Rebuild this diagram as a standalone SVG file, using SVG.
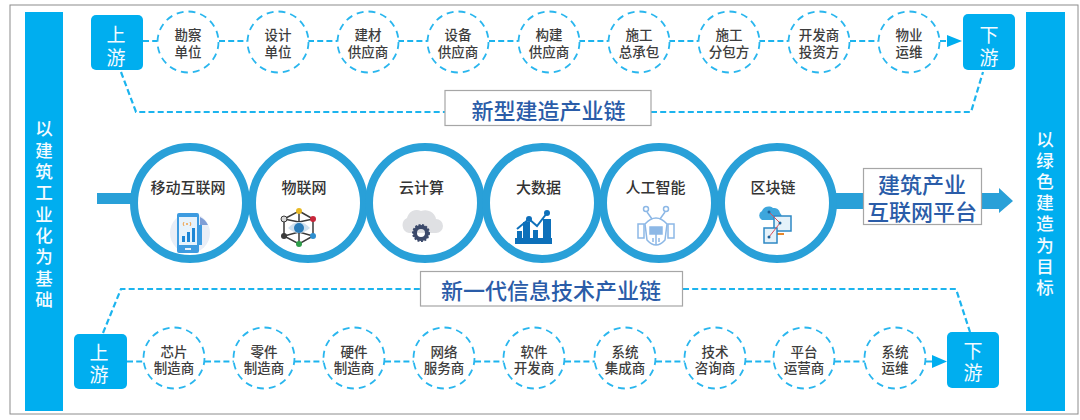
<svg xmlns="http://www.w3.org/2000/svg" width="1080" height="420" viewBox="0 0 1080 420">
<style>
text{font-family:"Noto Sans CJK SC","Noto Sans",sans-serif;text-anchor:middle;dominant-baseline:central}
.bar{fill:#00aeef}
.bt{fill:#f4fbff;font-size:17.500px;font-weight:500}
.ud{fill:#00aeef}
.udt{fill:#f4fbff;font-size:19px}
.c{fill:#fff;stroke:#29b6ee;stroke-width:1.8;stroke-dasharray:7 5}
.ct{fill:#3d3d3d;font-size:13.5px;font-weight:500}
.dash{fill:none;stroke:#1cb4ee;stroke-width:2.2;stroke-dasharray:6 3.2}
.ring{fill:#fff;stroke:#29a0d8;stroke-width:8}
.rt{fill:#333;font-size:15px;font-weight:500}
.box{fill:#fff;stroke:#a6a6a6;stroke-width:1.2}
.bx{fill:#2a5ca8;font-size:22px;font-weight:500}
</style>
<defs>
<filter id="soft" x="-10%" y="-10%" width="120%" height="120%"><feGaussianBlur stdDeviation="0.45"/></filter>
</defs>
<rect x="10" y="5" width="1068" height="409" fill="#fff" stroke="#8c8c8c" stroke-width="1"/>

<g id="connectors">
<path class="dash" d="M143 41H157M219 41H247M308 41H337M398 41H428M489 41H518M579 41H608M669 41H698M759 41H788M850 41H878M940 41H948"/>
<polygon points="947,35 962,41 947,47" fill="#00aeef"/>
<path class="dash" d="M121 72L136 112H445M651 112H971L983 72"/>
<path class="dash" d="M127 361.500H144M205 361.500H234M295 361.500H324M385 361.500H414M475 361.500H504M565 361.500H595M656 361.500H685M746 361.500H774M835 361.500H865M926 361.500H933"/>
<polygon points="932,355 947,361.500 932,368" fill="#00aeef"/>
<path class="dash" d="M103 333L121 289H421M683 289H956L970 332"/>
<rect x="97" y="193" width="40" height="11" fill="#29a0d8"/>
<polygon points="830,193 999,193 999,188 1013,201 999,213 999,209 830,209" fill="#29a0d8"/>
</g>

<g id="left-bar"><rect class="bar" x="25" y="12" width="38" height="399"/>
<text class="bt"><tspan x="44" y="127">以</tspan><tspan x="44" y="149">建</tspan><tspan x="44" y="170">筑</tspan><tspan x="44" y="191">工</tspan><tspan x="44" y="213">业</tspan><tspan x="44" y="234">化</tspan><tspan x="44" y="255">为</tspan><tspan x="44" y="277">基</tspan><tspan x="44" y="298">础</tspan></text></g>
<g id="right-bar"><rect class="bar" x="1026" y="12" width="39" height="399"/>
<text class="bt"><tspan x="1045" y="138">以</tspan><tspan x="1045" y="159">绿</tspan><tspan x="1045" y="180">色</tspan><tspan x="1045" y="201">建</tspan><tspan x="1045" y="222">造</tspan><tspan x="1045" y="244">为</tspan><tspan x="1045" y="265">目</tspan><tspan x="1045" y="286">标</tspan></text></g>

<g id="top-up"><rect class="ud" x="91" y="15" width="52" height="55" rx="5"/><text class="udt"><tspan x="116" y="33">上</tspan><tspan x="116" y="56">游</tspan></text></g>
<g id="top-t1"><circle class="c" cx="188" cy="42" r="30.500"/><text class="ct"><tspan x="188" y="34">勘察</tspan><tspan x="188" y="51">单位</tspan></text></g>
<g id="top-t2"><circle class="c" cx="278" cy="42" r="30.500"/><text class="ct"><tspan x="278" y="34">设计</tspan><tspan x="278" y="51">单位</tspan></text></g>
<g id="top-t3"><circle class="c" cx="368" cy="42" r="30.500"/><text class="ct"><tspan x="368" y="34">建材</tspan><tspan x="368" y="51">供应商</tspan></text></g>
<g id="top-t4"><circle class="c" cx="458" cy="42" r="30.500"/><text class="ct"><tspan x="458" y="34">设备</tspan><tspan x="458" y="51">供应商</tspan></text></g>
<g id="top-t5"><circle class="c" cx="549" cy="42" r="30.500"/><text class="ct"><tspan x="549" y="34">构建</tspan><tspan x="549" y="51">供应商</tspan></text></g>
<g id="top-t6"><circle class="c" cx="639" cy="42" r="30.500"/><text class="ct"><tspan x="639" y="34">施工</tspan><tspan x="639" y="51">总承包</tspan></text></g>
<g id="top-t7"><circle class="c" cx="729" cy="42" r="30.500"/><text class="ct"><tspan x="729" y="34">施工</tspan><tspan x="729" y="51">分包方</tspan></text></g>
<g id="top-t8"><circle class="c" cx="819" cy="42" r="30.500"/><text class="ct"><tspan x="819" y="34">开发商</tspan><tspan x="819" y="51">投资方</tspan></text></g>
<g id="top-t9"><circle class="c" cx="909" cy="42" r="30.500"/><text class="ct"><tspan x="909" y="34">物业</tspan><tspan x="909" y="51">运维</tspan></text></g>
<g id="top-down"><rect class="ud" x="963" y="14" width="52" height="56" rx="5"/><text class="udt"><tspan x="989" y="33">下</tspan><tspan x="989" y="56">游</tspan></text></g>
<g id="label-top"><rect class="box" x="445" y="90.500" width="206" height="35"/><text class="bx" x="548.500" y="108.500">新型建造产业链</text></g>

<g id="tech1"><circle class="ring" cx="190" cy="203" r="56"/><text class="rt" x="188" y="186">移动互联网</text>
<g filter="url(#soft)"><circle cx="190" cy="233" r="20" fill="#e9eef7"/><path d="M200 217a16 16 0 0 1 8 8h-8z" fill="#7f9ed6"/><rect x="177" y="213" width="22" height="40" rx="2" fill="#3d9be0"/><rect x="179" y="217" width="18" height="28" fill="#e6f2fc"/><rect x="182" y="236" width="3" height="6" fill="#1f86d6"/><rect x="187" y="232" width="3" height="10" fill="#1f86d6"/><rect x="192" y="228" width="3" height="14" fill="#1f86d6"/><rect x="197" y="225" width="5" height="20" fill="#3d9be0"/><path d="M184 226a3 3 0 0 1 0-4M190 226a3 3 0 0 0 0-4" fill="none" stroke="#f0a14a" stroke-width="1"/><circle cx="187" cy="224" r="1" fill="#f0a14a"/><rect x="185" y="248" width="6" height="2" fill="#e6f2fc"/></g></g>

<g id="tech2"><circle class="ring" cx="308" cy="203" r="56"/><text class="rt" x="304" y="186">物联网</text>
<g filter="url(#soft)"><path d="M299 211L313 219V236L299 244L284 236V219ZM284 219L299 222L313 219M284 236L299 232L313 236M299 211V222M299 232V244" fill="none" stroke="#3a3a3a" stroke-width="1.500"/><path d="M288 228Q299 216 310 228Q299 238 288 228Z" fill="#cfe0ee"/><circle cx="299" cy="228" r="5" fill="#2a7cb8"/><circle cx="299" cy="211" r="3" fill="#e8b923"/><circle cx="313" cy="219" r="3" fill="#c8283a"/><circle cx="313" cy="236" r="3" fill="#2f8fd0"/><circle cx="299" cy="244" r="3" fill="#2e9e4a"/><circle cx="284" cy="236" r="3" fill="#3a3a3a"/><circle cx="284" cy="219" r="3" fill="#d8d8d8" stroke="#3a3a3a"/></g></g>

<g id="tech3"><circle class="ring" cx="425" cy="203" r="56"/><text class="rt" x="421.500" y="186">云计算</text>
<g filter="url(#soft)"><path d="M409 233a8 8 0 0 1-2-15a10 10 0 0 1 14-7a11 11 0 0 1 15 8a7 7 0 0 1 0 14z" fill="#dfe0e3"/><circle cx="421" cy="233" r="6" fill="none" stroke="#3b4a6b" stroke-width="4"/><circle cx="421" cy="233" r="8" fill="none" stroke="#3b4a6b" stroke-width="2" stroke-dasharray="2 1.500"/></g></g>

<g id="tech4"><circle class="ring" cx="542" cy="203" r="56"/><text class="rt" x="538.500" y="186">大数据</text>
<g filter="url(#soft)" fill="#0f6fba"><rect x="515" y="238" width="37" height="6"/><rect x="517" y="231" width="5" height="8"/><rect x="523" y="222" width="7" height="17"/><rect x="533" y="230" width="5" height="9"/><rect x="543" y="219" width="8" height="20"/><circle cx="529" cy="219" r="3"/><circle cx="547" cy="213" r="3"/><path d="M517 229L529 219L537 226L547 213" fill="none" stroke="#0f6fba" stroke-width="2"/></g></g>

<g id="tech5"><circle class="ring" cx="659" cy="203" r="56"/><text class="rt" x="655.500" y="186">人工智能</text>
<g filter="url(#soft)" fill="none" stroke="#8db8e6" stroke-width="1.500"><circle cx="646" cy="209" r="2.500"/><circle cx="666" cy="209" r="2.500"/><path d="M647 212L652 219M665 212L660 219"/><path d="M645 224Q656 212 667 224L665 240Q656 250 647 240Z"/><rect x="638" y="224" width="6" height="14"/><rect x="668" y="224" width="6" height="14"/><rect x="650" y="227" width="12" height="7" fill="#8db8e6"/><path d="M656 234V245M653 238V242M659 238V242"/></g></g>

<g id="tech6"><circle class="ring" cx="777" cy="203" r="56"/><text class="rt" x="773" y="186">区块链</text>
<g filter="url(#soft)"><path d="M762 220a5 5 0 0 1 0-9a7 7 0 0 1 11-3a6 6 0 0 1 7 5a4 4 0 0 1-1 7z" fill="#3da6dc"/><rect x="774" y="216" width="17" height="15" fill="#e5f2fa" stroke="#2d88c4" stroke-width="1.500"/><rect x="777" y="233" width="7" height="2" fill="#e8872b"/><rect x="764" y="228" width="13" height="15" fill="#e5f2fa" stroke="#2d88c4" stroke-width="1.500"/><path d="M769 212L780 223L769 237" fill="none" stroke="#d8505c" stroke-width="1"/><circle cx="769" cy="212" r="1.500" fill="#1f5f96"/><circle cx="780" cy="223" r="1.500" fill="#1f5f96"/><circle cx="769" cy="237" r="1.500" fill="#1f5f96"/></g></g>

<g id="platform"><rect class="box" x="863.500" y="168.500" width="118" height="56"/><text class="bx"><tspan x="922" y="183">建筑产业</tspan><tspan x="922" y="210">互联网平台</tspan></text></g>
<g id="label-bottom"><rect class="box" x="420.500" y="271.500" width="262" height="34.500"/><text class="bx" x="551" y="289">新一代信息技术产业链</text></g>

<g id="bot-up"><rect class="ud" x="74" y="334" width="53" height="55" rx="5"/><text class="udt"><tspan x="99" y="351">上</tspan><tspan x="99" y="373">游</tspan></text></g>
<g id="bot-t1"><circle class="c" cx="174" cy="358" r="30.500"/><text class="ct"><tspan x="174" y="351">芯片</tspan><tspan x="174" y="367">制造商</tspan></text></g>
<g id="bot-t2"><circle class="c" cx="264" cy="358" r="30.500"/><text class="ct"><tspan x="264" y="351">零件</tspan><tspan x="264" y="367">制造商</tspan></text></g>
<g id="bot-t3"><circle class="c" cx="354" cy="358" r="30.500"/><text class="ct"><tspan x="354" y="351">硬件</tspan><tspan x="354" y="367">制造商</tspan></text></g>
<g id="bot-t4"><circle class="c" cx="444" cy="358" r="30.500"/><text class="ct"><tspan x="444" y="351">网络</tspan><tspan x="444" y="367">服务商</tspan></text></g>
<g id="bot-t5"><circle class="c" cx="534" cy="358" r="30.500"/><text class="ct"><tspan x="534" y="351">软件</tspan><tspan x="534" y="367">开发商</tspan></text></g>
<g id="bot-t6"><circle class="c" cx="625" cy="358" r="30.500"/><text class="ct"><tspan x="625" y="351">系统</tspan><tspan x="625" y="367">集成商</tspan></text></g>
<g id="bot-t7"><circle class="c" cx="715" cy="358" r="30.500"/><text class="ct"><tspan x="715" y="351">技术</tspan><tspan x="715" y="367">咨询商</tspan></text></g>
<g id="bot-t8"><circle class="c" cx="804" cy="358" r="30.500"/><text class="ct"><tspan x="804" y="351">平台</tspan><tspan x="804" y="367">运营商</tspan></text></g>
<g id="bot-t9"><circle class="c" cx="895" cy="358" r="30.500"/><text class="ct"><tspan x="895" y="351">系统</tspan><tspan x="895" y="367">运维</tspan></text></g>
<g id="bot-down"><rect class="ud" x="947" y="332" width="52" height="56" rx="5"/><text class="udt"><tspan x="973" y="349">下</tspan><tspan x="973" y="371">游</tspan></text></g>
</svg>
